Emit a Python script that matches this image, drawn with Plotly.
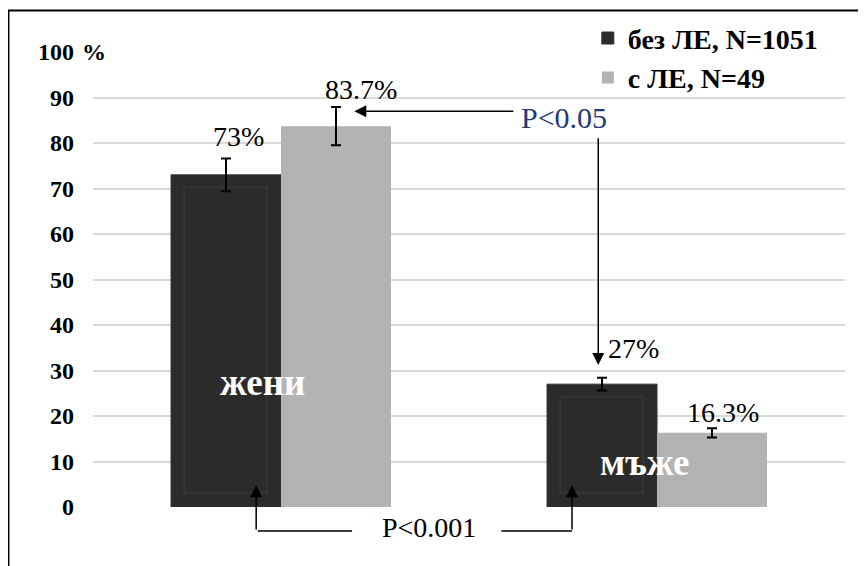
import plotly.graph_objects as go

# ---- data ----
categories = ["жени", "мъже"]
series_names = ["без ЛЕ, N=1051", "с ЛЕ, N=49"]
no_le = [73.0, 27.0]
with_le = [83.7, 16.3]
no_le_err = [3.6, 1.4]
with_le_err = [4.2, 1.0]
no_le_labels = ["73%", "27%"]
with_le_labels = ["83.7%", "16.3%"]
y_tickvals = [0, 10, 20, 30, 40, 50, 60, 70, 80, 90, 100]
p_labels = ["P<0.05", "P<0.001"]

# ---- style ----
DARK = "#2b2b2b"
LIGHT = "#b3b3b3"
NAVY = "#1f3a78"
SERIF = "Liberation Serif, Times New Roman, serif"
BW = 0.2925  # bar width in category units
idx = list(range(len(categories)))

fig = go.Figure()
# dark bars
fig.add_trace(go.Bar(x=idx, y=no_le, name=series_names[0], offset=-BW, width=BW,
                     marker=dict(color=DARK, line=dict(color="#333333", width=1)),
                     hoverinfo="skip"))
# bevel (inner panel of the dark bars)
bevel_top, bevel_bot = 2.7, 3.1
fig.add_trace(go.Bar(x=idx, y=[v - bevel_top - bevel_bot for v in no_le], base=bevel_bot,
                     offset=-BW + 0.035, width=BW - 0.072, showlegend=False,
                     marker=dict(color=DARK, line=dict(color="#353535", width=2)),
                     hoverinfo="skip"))
# light bars
fig.add_trace(go.Bar(x=idx, y=with_le, name=series_names[1], offset=0, width=BW,
                     marker=dict(color=LIGHT, line=dict(width=0)),
                     error_y=dict(type="data", array=with_le_err, color="black",
                                  thickness=2, width=5),
                     hoverinfo="skip"))
# error bars of dark bars (transparent carrier)
fig.add_trace(go.Bar(x=idx, y=no_le, offset=-BW, width=BW, showlegend=False,
                     marker=dict(color="rgba(0,0,0,0)", line=dict(width=0)),
                     error_y=dict(type="data", array=no_le_err, color="black",
                                  thickness=2, width=5),
                     hoverinfo="skip"))

annotations = []
# value labels
dark_dx = [12, 31]
dark_dy = [4, 12]
light_dx = [25, 11]
light_dy = [0, -2]
for i in idx:
    annotations.append(dict(x=i - BW / 2, y=no_le[i] + no_le_err[i], xref="x", yref="y",
                            text=no_le_labels[i], showarrow=False, yanchor="bottom",
                            xshift=dark_dx[i], yshift=dark_dy[i],
                            font=dict(family=SERIF, size=28, color="black")))
    annotations.append(dict(x=i + BW / 2, y=with_le[i] + with_le_err[i], xref="x", yref="y",
                            text=with_le_labels[i], showarrow=False, yanchor="bottom",
                            xshift=light_dx[i], yshift=light_dy[i],
                            font=dict(family=SERIF, size=28, color="black")))

# category labels inside bars
cat_pos = [(-0.05, 27.3), (0.968, 9.7)]
for i in idx:
    annotations.append(dict(x=cat_pos[i][0], y=cat_pos[i][1], xref="x", yref="y",
                            text=categories[i], showarrow=False,
                            font=dict(family=SERIF, size=37, color="white", weight="bold")))

# P<0.05 annotation and arrows
annotations.append(dict(x=0.753, y=85.7, xref="x", yref="y", text=p_labels[0],
                        showarrow=False, font=dict(family=SERIF, size=30, color=NAVY)))
annotations.append(dict(x=0.195, y=87.0, ax=0.622, ay=87.0, xref="x", yref="y",
                        axref="x", ayref="y", text="", showarrow=True,
                        arrowhead=2, arrowsize=1.6, arrowwidth=1.5, arrowcolor="black"))
annotations.append(dict(x=1 - BW / 2 - 0.01, y=31.2, ax=1 - BW / 2 - 0.01, ay=81.4,
                        xref="x", yref="y", axref="x", ayref="y", text="", showarrow=True,
                        arrowhead=2, arrowsize=1.6, arrowwidth=1.5, arrowcolor="black"))

# P<0.001 bracket (below the axis -> paper y)
br_y = -0.053
annotations.append(dict(x=0.394, y=br_y + 0.009, xref="x", yref="paper", text=p_labels[1],
                        showarrow=False, yanchor="middle",
                        font=dict(family=SERIF, size=28, color="black")))
for xv in (-0.066, 0.774):
    annotations.append(dict(x=xv, y=4.8, ax=xv, ay=-5.3, xref="x", yref="y",
                            axref="x", ayref="y", text="", showarrow=True,
                            arrowhead=2, arrowsize=1.6, arrowwidth=1.5, arrowcolor="black"))
for x0, x1 in ((-0.066, 0.189), (0.582, 0.774)):
    annotations.append(dict(x=x1, y=br_y, ax=x0, ay=0, xref="x", yref="paper",
                            axref="x", ayref="pixel", text="", showarrow=True,
                            arrowhead=0, arrowwidth=1.5, arrowcolor="black"))

# "%" after the 100 tick
annotations.append(dict(x=0, y=100, xref="paper", yref="y", text="%", showarrow=False,
                        xanchor="center", yanchor="middle", bgcolor="white", xshift=1,
                        font=dict(family=SERIF, size=24, color="black", weight="bold")))

fig.update_layout(
    width=858, height=558,
    margin=dict(l=85, r=21, t=44, b=59, autoexpand=False),
    paper_bgcolor="white", plot_bgcolor="white",
    barmode="overlay",
    showlegend=True,
    legend=dict(x=0.658, xanchor="left", y=1.085, yanchor="top",
                bgcolor="rgba(0,0,0,0)", tracegroupgap=0,
                font=dict(family=SERIF, size=28, color="black", weight="bold")),
    xaxis=dict(type="linear", range=[-0.5, 1.5], showticklabels=False, showgrid=False,
               zeroline=False, showline=False, ticks=""),
    yaxis=dict(range=[0, 100], tickvals=y_tickvals, showgrid=True, gridcolor="#d9d9d9",
               gridwidth=1.5, zeroline=False, showline=False, ticks="",
               ticklabelstandoff=18,
               tickfont=dict(family=SERIF, size=24, color="black", weight="bold")),
    annotations=annotations,
    shapes=[dict(type="rect", xref="paper", yref="paper", x0=-0.1124, x1=1.2,
                 y0=-0.3, y1=1.091, line=dict(color="black", width=2),
                 fillcolor="rgba(0,0,0,0)", layer="above")],
)

fig.write_html("out.html")
